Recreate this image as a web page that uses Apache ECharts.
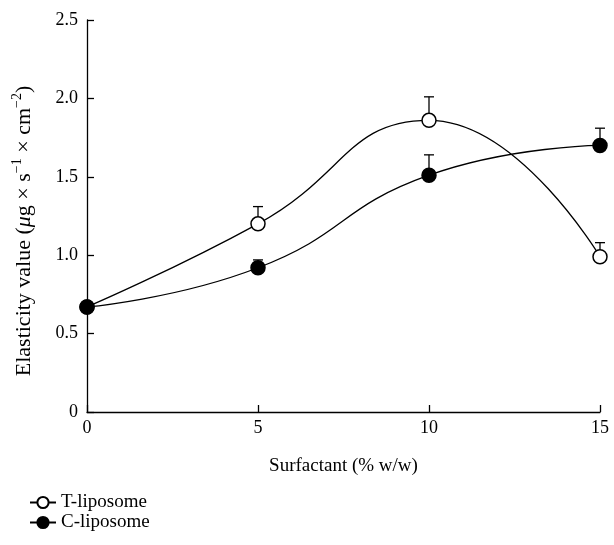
<!DOCTYPE html>
<html>
<head>
<meta charset="utf-8">
<script src="https://cdn.jsdelivr.net/npm/echarts@6/dist/echarts.min.js"></script>
<style>html,body{margin:0;padding:0;background:#fff}#c{width:614px;height:545px}</style>
</head>
<body>
<div id="c"></div>
<script>
const surfactant = [0, 5, 10, 15];
const tValues = [0.67, 1.20, 1.86, 0.99];
const tErrors = [0, 0.11, 0.15, 0.09];
const cValues = [0.67, 0.92, 1.51, 1.70];
const cErrors = [0, 0.05, 0.13, 0.11];
const yTicks = [0, 0.5, 1.0, 1.5, 2.0, 2.5];
const xTicks = [0, 5, 10, 15];

const FONT = '"Liberation Serif", "DejaVu Serif", serif';
const chart = echarts.init(document.getElementById('c'), null, {renderer: 'canvas'});

function pairs(xs, ys) { return xs.map((x, i) => [x, ys[i]]); }
function errData(xs, ys, es) { return xs.map((x, i) => [x, ys[i], ys[i] + es[i]]); }

function errRender(params, api) {
  const x = api.value(0), y = api.value(1), top = api.value(2);
  if (top <= y) return null;
  const p0 = api.coord([x, y]);
  const p1 = api.coord([x, top]);
  const hw = 5;
  return {
    type: 'group',
    children: [
      {type: 'line', shape: {x1: p0[0], y1: p0[1], x2: p1[0], y2: p1[1]}, style: {stroke: '#000', lineWidth: 1.3}},
      {type: 'line', shape: {x1: p1[0] - hw, y1: p1[1], x2: p1[0] + hw, y2: p1[1]}, style: {stroke: '#000', lineWidth: 1.3}}
    ]
  };
}

chart.setOption({
  animation: false,
  backgroundColor: '#fff',
  textStyle: {fontFamily: FONT, color: '#000'},
  grid: {left: 87, right: 14, top: 20, bottom: 133, containLabel: false},
  legend: {
    orient: 'vertical',
    left: 24,
    top: 488,
    itemWidth: 26,
    itemHeight: 14,
    itemGap: 1,
    textStyle: {fontFamily: FONT, fontSize: 19, color: '#000'},
    data: ['T-liposome', 'C-liposome']
  },
  xAxis: {
    type: 'value',
    min: 0, max: 15, interval: 5,
    name: 'Surfactant (% w/w)',
    nameLocation: 'middle',
    nameGap: 45,
    nameTextStyle: {fontFamily: FONT, fontSize: 19, color: '#000'},
    axisLine: {lineStyle: {color: '#000', width: 1.3}},
    axisTick: {inside: true, length: 7, lineStyle: {color: '#000', width: 1.3}},
    axisLabel: {fontFamily: FONT, fontSize: 18, color: '#000', margin: 7,
      formatter: v => xTicks.includes(v) ? String(v) : ''},
    splitLine: {show: false}
  },
  yAxis: {
    type: 'value',
    min: 0, max: 2.5, interval: 0.5,
    name: 'Elasticity value ({it|μ}g × s{sup|−1} × cm{sup|−2})',
    nameLocation: 'middle',
    nameGap: 49,
    nameRotate: 90,
    nameTextStyle: {
      fontFamily: FONT, fontSize: 22, color: '#000', lineHeight: 28,
      padding: [0, 30, 0, 0],
      rich: {
        it: {fontFamily: FONT, fontSize: 22, fontStyle: 'italic', color: '#000', lineHeight: 28},
        sup: {fontFamily: FONT, fontSize: 14, color: '#000', verticalAlign: 'top', lineHeight: 28}
      }
    },
    axisLine: {show: true, lineStyle: {color: '#000', width: 1.3}},
    axisTick: {show: true, inside: true, length: 7, lineStyle: {color: '#000', width: 1.3}},
    axisLabel: {fontFamily: FONT, fontSize: 18, color: '#000', margin: 9,
      formatter: v => {
        const t = yTicks.find(k => Math.abs(k - v) < 1e-9);
        if (t === undefined) return '';
        return t === 0 ? '0' : t.toFixed(1);
      }},
    splitLine: {show: false}
  },
  series: [
    {
      type: 'custom', name: 'T-err', renderItem: errRender,
      data: errData(surfactant, tValues, tErrors), z: 1, silent: true,
      encode: {x: 0, y: [1, 2]}
    },
    {
      type: 'custom', name: 'C-err', renderItem: errRender,
      data: errData(surfactant, cValues, cErrors), z: 1, silent: true,
      encode: {x: 0, y: [1, 2]}
    },
    {
      type: 'line', name: 'T-liposome', data: pairs(surfactant, tValues),
      smooth: 0.5, symbol: 'circle', symbolSize: 14, z: 3,
      lineStyle: {color: '#000', width: 1.3},
      itemStyle: {color: '#fff', borderColor: '#000', borderWidth: 1.5}
    },
    {
      type: 'line', name: 'C-liposome', data: pairs(surfactant, cValues),
      smooth: 0.5, symbol: 'circle', symbolSize: 14, z: 3,
      lineStyle: {color: '#000', width: 1.3},
      itemStyle: {color: '#000', borderColor: '#000', borderWidth: 1.5}
    }
  ]
});
</script>
</body>
</html>
